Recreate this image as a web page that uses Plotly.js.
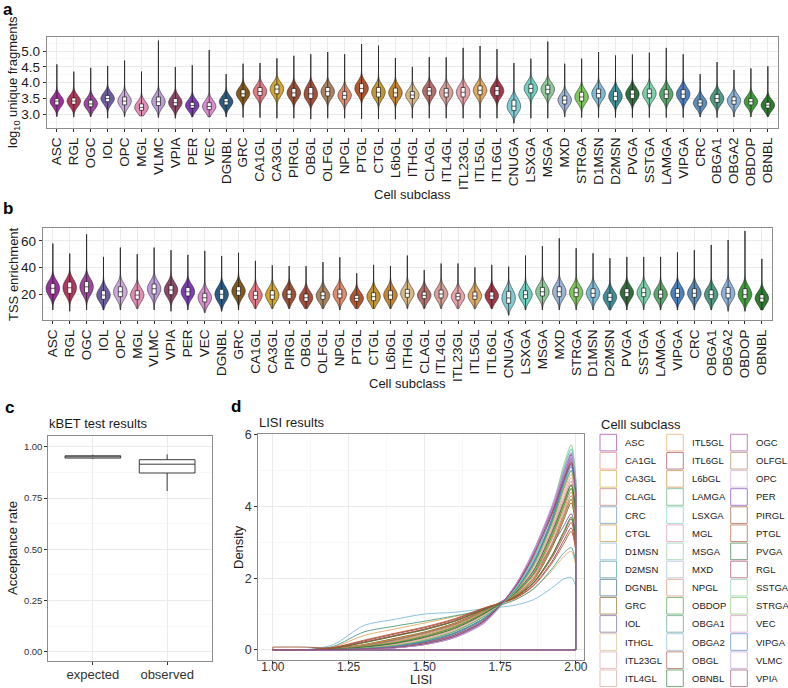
<!DOCTYPE html>
<html><head><meta charset="utf-8">
<script src="https://cdn.plot.ly/plotly-3.0.1.min.js"></script>
<style>html,body{margin:0;padding:0;background:#fff}</style>
</head><body>
<div id="chart" style="width:788px;height:688px"></div>
<script>
// ---------- data ----------
const subclasses = ["ASC","RGL","OGC","IOL","OPC","MGL","VLMC","VPIA","PER","VEC","DGNBL","GRC","CA1GL","CA3GL","PIRGL","OBGL","OLFGL","NPGL","PTGL","CTGL","L6bGL","ITHGL","CLAGL","ITL4GL","ITL23GL","ITL5GL","ITL6GL","CNUGA","LSXGA","MSGA","MXD","STRGA","D1MSN","D2MSN","PVGA","SSTGA","LAMGA","VIPGA","CRC","OBGA1","OBGA2","OBDOP","OBNBL"];
const subclassColors = ["#9E309E","#B3395C","#9E47A0","#6F5FA0","#CDA8DC","#E38CB4","#BB9CD8","#8D4868","#7A3DB3","#D88CCB","#2C5C84","#84591A","#E27A84","#D3A632","#9A5236","#A84F3C","#A88460","#DE8C6E","#B5552C","#C49632","#C8852F","#D8B884","#B46E6A","#D8A096","#E6A2A8","#DFA962","#A03A4C","#80CCD6","#70CFBF","#8DC99A","#9CB4D6","#7EC85E","#7DBAD8","#3E8E98","#306F3C","#7AD0A8","#58A86A","#4E80BE","#5C8CB8","#4E9A84","#8CB2DA","#3E9F3A","#2F7B30"];

// panel a: log10 unique fragments
const fragLo = [2.93,2.92,2.93,2.88,2.93,2.95,2.9,2.88,2.92,2.92,2.92,2.9,2.9,2.88,2.88,2.85,2.88,2.88,2.86,2.86,2.85,2.88,2.88,2.88,2.88,2.88,2.88,2.72,2.88,2.88,2.92,2.9,2.9,2.9,2.9,2.9,2.9,2.9,2.92,2.9,2.92,2.92,2.93];
const fragQ1 = [3.3,3.32,3.24,3.4,3.3,3.13,3.28,3.27,3.2,3.15,3.3,3.55,3.6,3.65,3.55,3.5,3.58,3.48,3.68,3.55,3.55,3.5,3.6,3.55,3.55,3.62,3.6,3.12,3.68,3.65,3.33,3.42,3.52,3.43,3.5,3.52,3.5,3.5,3.26,3.38,3.32,3.3,3.2];
const fragMedian = [3.42,3.42,3.33,3.5,3.42,3.22,3.4,3.37,3.28,3.25,3.4,3.65,3.72,3.8,3.68,3.65,3.72,3.6,3.82,3.7,3.68,3.61,3.74,3.68,3.7,3.76,3.75,3.26,3.82,3.79,3.45,3.55,3.66,3.57,3.64,3.66,3.64,3.64,3.36,3.5,3.43,3.4,3.29];
const fragQ3 = [3.5,3.52,3.45,3.6,3.55,3.33,3.55,3.5,3.38,3.37,3.5,3.78,3.85,3.93,3.82,3.85,3.85,3.72,3.97,3.85,3.83,3.72,3.85,3.82,3.85,3.9,3.88,3.45,3.95,3.92,3.58,3.7,3.8,3.72,3.77,3.8,3.78,3.78,3.46,3.63,3.55,3.5,3.38];
const fragMax = [4.58,4.35,4.47,4.53,4.7,4.35,5.33,4.5,4.55,5.03,4.27,4.6,4.62,4.77,4.85,4.9,4.97,4.9,5.22,5.17,4.78,4.5,4.81,4.8,5.1,5.16,5.06,4.62,4.76,5.3,4.6,4.76,4.97,4.86,4.89,4.95,5.1,4.9,4.27,4.65,4.4,4.45,4.52];

// panel b: TSS enrichment
const tssLo = [8,7,8,8,8,9,8,7,8,6,7,8,9,9,9,9,9,8,9,9,9,9,9,9,9,9,9,4,8,8,8,8,8,8,8,8,8,8,8,8,7,7,8];
const tssQ1 = [20,20.5,21,16,18,16,20,19.5,18.5,14,16,19,16,16,16.5,14.5,16,17,14.5,15,16,17.5,16.5,17,15.5,16,16,13,16.5,18.5,18,18,17.5,14.5,18,18,17,17.5,17.5,16.5,17,16.5,14];
const tssMedian = [24.3,24.7,25.4,19.2,21.7,19.2,24,23,21.7,17.2,19.8,22.3,19,19.2,19.8,17.2,18.7,20,16.7,18,19.2,20.5,19,20,18,18.5,18.5,17,19.5,21.7,21.7,21,20.5,17.5,21,21,19.8,20.5,20.5,19.5,20.5,19.5,16.8];
const tssQ3 = [28,29,29.5,22.5,25.5,22.5,27.5,26.5,25,20.5,23.5,25.5,22,22.5,23,20,21.5,23.5,19,21,22.5,23.5,21.5,23,20.5,21.5,21.5,22,22.5,25,25.5,24.5,24,20.5,24,24.5,23,24,24,23,25,24,19.5];
const tssMax = [58,50.5,65,48,55,50,55,53,49.5,52.5,48.7,51,45,41.6,41,41,44,47.7,35.6,42,41,49,38,43,43,40,42,40.6,49,56,62,54.5,50.7,47,48,48,48,51.4,53,57,60.7,67.5,46.5];

// panel c: kBET acceptance rate
const kbetGroups = ["expected","observed"];
const kbetLower = [0.94,0.784];
const kbetQ1 = [0.945,0.872];
const kbetMedian = [0.951,0.915];
const kbetQ3 = [0.956,0.937];
const kbetUpper = [0.962,0.963];

// panel d: LISI densities (evaluated at lisiGrid)
const lisiGrid = [1.0,1.1,1.2,1.3,1.4,1.5,1.6,1.7,1.8,1.86,1.92,1.96,1.985,2.0];
const lisiASC    = [0,0,0.01,0.03,0.07,0.18,0.4,0.82,1.72,2.55,3.8,4.9,5.45,4.55];
const lisiCA1GL  = [0,0,0.02,0.07,0.17,0.34,0.6,1.02,1.6,2.2,3.3,4.2,4.7,3.95];
const lisiCA3GL  = [0,0,0.02,0.08,0.19,0.36,0.62,1.03,1.58,2.15,3.2,4.1,4.6,3.85];
const lisiCLAGL  = [0,0,0.03,0.13,0.28,0.47,0.72,1.1,1.52,1.98,2.9,3.72,4.2,3.5];
const lisiCRC    = [0,0,0.01,0.04,0.1,0.24,0.48,0.9,1.65,2.4,3.55,4.6,5.1,4.3];
const lisiCTGL   = [0,0,0.03,0.1,0.22,0.4,0.66,1.05,1.55,2.1,3.1,4.0,4.5,3.75];
const lisiD1MSN  = [0,0,0.15,0.68,0.85,1.0,1.05,1.15,1.25,1.4,1.72,1.98,2.02,1.78];
const lisiD2MSN  = [0,0,0.01,0.04,0.09,0.22,0.45,0.88,1.68,2.45,3.65,4.8,5.3,4.45];
const lisiDGNBL  = [0,0,0.01,0.05,0.12,0.27,0.52,0.95,1.62,2.35,3.5,4.5,5.0,4.2];
const lisiGRC    = [0,0,0.04,0.15,0.32,0.5,0.75,1.12,1.5,1.93,2.82,3.62,4.1,3.4];
const lisiIOL    = [0,0,0.03,0.12,0.28,0.48,0.72,1.1,1.6,2.1,2.9,3.45,3.8,3.2];
const lisiITHGL  = [0,0,0.02,0.06,0.14,0.3,0.55,0.98,1.62,2.3,3.4,4.4,4.9,4.1];
const lisiITL23GL= [0,0,0.02,0.07,0.16,0.32,0.57,1.0,1.6,2.25,3.35,4.3,4.8,4.0];
const lisiITL4GL = [0,0,0.02,0.08,0.2,0.38,0.63,1.03,1.57,2.15,3.2,4.1,4.6,3.85];
const lisiITL5GL = [0,0,0.08,0.4,0.58,0.75,0.93,1.13,1.4,1.7,2.2,2.6,2.75,2.35];
const lisiITL6GL = [0,0,0.06,0.25,0.44,0.62,0.85,1.17,1.45,1.8,2.45,3.05,3.4,2.85];
const lisiL6bGL  = [0,0,0.04,0.14,0.3,0.48,0.73,1.1,1.5,1.95,2.88,3.7,4.2,3.5];
const lisiLAMGA  = [0,0,0.01,0.04,0.1,0.23,0.47,0.9,1.66,2.42,3.6,4.7,5.2,4.35];
const lisiLSXGA  = [0,0,0.01,0.03,0.07,0.17,0.37,0.8,1.7,2.55,3.85,5.05,5.6,4.7];
const lisiMGL    = [0,0,0.01,0.03,0.08,0.19,0.4,0.84,1.75,2.6,3.8,4.8,5.3,4.4];
const lisiMSGA   = [0,0,0,0.02,0.06,0.15,0.35,0.78,1.7,2.55,3.9,5.15,5.72,4.8];
const lisiMXD    = [0,0,0.01,0.03,0.07,0.17,0.38,0.82,1.72,2.55,3.85,4.95,5.5,4.6];
const lisiNPGL   = [0,0,0.03,0.11,0.24,0.42,0.68,1.06,1.55,2.05,3.05,3.9,4.4,3.65];
const lisiOBDOP  = [0,0,0.02,0.09,0.2,0.38,0.64,1.04,1.57,2.12,3.15,4.0,4.5,3.75];
const lisiOBGA1  = [0,0,0.1,0.5,0.66,0.8,0.95,1.12,1.4,1.7,2.25,2.7,2.85,2.45];
const lisiOBGA2  = [0,0,0.01,0.03,0.08,0.19,0.41,0.84,1.7,2.5,3.75,4.88,5.4,4.5];
const lisiOBGL   = [0,0,0.05,0.21,0.39,0.57,0.8,1.14,1.48,1.87,2.6,3.25,3.65,3.05];
const lisiOBNBL  = [0,0,0.05,0.2,0.38,0.56,0.8,1.14,1.48,1.88,2.62,3.3,3.7,3.1];
const lisiOGC    = [0,0,0,0.02,0.06,0.15,0.35,0.78,1.8,2.75,3.95,4.95,5.45,4.55];
const lisiOLFGL  = [0,0,0.03,0.12,0.26,0.45,0.7,1.08,1.53,2.0,2.95,3.8,4.3,3.6];
const lisiOPC    = [0,0,0,0.02,0.06,0.15,0.34,0.76,1.8,2.75,4.0,5.0,5.5,4.6];
const lisiPER    = [0,0,0,0.02,0.06,0.16,0.36,0.8,1.78,2.7,3.9,4.85,5.35,4.45];
const lisiPIRGL  = [0.08,0.08,0.06,0.22,0.4,0.58,0.82,1.15,1.47,1.85,2.55,3.17,3.55,2.95];
const lisiPTGL   = [0,0,0.07,0.27,0.46,0.64,0.87,1.18,1.44,1.78,2.4,2.96,3.3,2.75];
const lisiPVGA   = [0,0,0.02,0.08,0.18,0.35,0.6,1.02,1.6,2.2,3.25,4.1,4.6,3.85];
const lisiRGL    = [0,0,0.01,0.03,0.08,0.2,0.42,0.85,1.75,2.6,3.75,4.7,5.2,4.35];
const lisiSSTGA  = [0,0,0.01,0.03,0.07,0.17,0.37,0.8,1.7,2.55,3.85,5.05,5.6,4.7];
const lisiSTRGA  = [0,0,0.01,0.05,0.12,0.27,0.52,0.95,1.62,2.35,3.5,4.5,5.0,4.2];
const lisiVEC    = [0,0,0,0.02,0.06,0.16,0.37,0.8,1.78,2.7,3.85,4.8,5.3,4.4];
const lisiVIPGA  = [0,0,0.01,0.04,0.1,0.23,0.47,0.9,1.66,2.42,3.6,4.65,5.15,4.3];
const lisiVLMC   = [0,0,0,0.02,0.06,0.15,0.35,0.78,1.8,2.75,3.95,4.9,5.4,4.5];
const lisiVPIA   = [0,0,0.01,0.03,0.07,0.17,0.38,0.82,1.76,2.65,3.8,4.75,5.25,4.4];
const lisiSubclasses = ["ASC","CA1GL","CA3GL","CLAGL","CRC","CTGL","D1MSN","D2MSN","DGNBL","GRC","IOL","ITHGL","ITL23GL","ITL4GL","ITL5GL","ITL6GL","L6bGL","LAMGA","LSXGA","MGL","MSGA","MXD","NPGL","OBDOP","OBGA1","OBGA2","OBGL","OBNBL","OGC","OLFGL","OPC","PER","PIRGL","PTGL","PVGA","RGL","SSTGA","STRGA","VEC","VIPGA","VLMC","VPIA"];
const lisiCurves = [lisiASC,lisiCA1GL,lisiCA3GL,lisiCLAGL,lisiCRC,lisiCTGL,lisiD1MSN,lisiD2MSN,lisiDGNBL,lisiGRC,lisiIOL,lisiITHGL,lisiITL23GL,lisiITL4GL,lisiITL5GL,lisiITL6GL,lisiL6bGL,lisiLAMGA,lisiLSXGA,lisiMGL,lisiMSGA,lisiMXD,lisiNPGL,lisiOBDOP,lisiOBGA1,lisiOBGA2,lisiOBGL,lisiOBNBL,lisiOGC,lisiOLFGL,lisiOPC,lisiPER,lisiPIRGL,lisiPTGL,lisiPVGA,lisiRGL,lisiSSTGA,lisiSTRGA,lisiVEC,lisiVIPGA,lisiVLMC,lisiVPIA];

// ---------- helpers ----------
const W = 788, H = 688;
const fx = p => p / W;
const fy = p => 1 - p / H;
const FONT = 'Liberation Sans, Arial, sans-serif';
const colorOf = {};
subclasses.forEach((s, i) => colorOf[s] = subclassColors[i]);

const traces = [];

function addViolins(xa, ya, q1, med, q3, lo, hi, bw) {
  subclasses.forEach((s, i) => {
    traces.push({
      type: 'violin', xaxis: xa, yaxis: ya,
      x: [s, s, s], y: [q1[i], med[i], q3[i]],
      spanmode: 'manual', span: [lo[i], hi[i]], bandwidth: bw,
      width: 0.8, scalemode: 'width', side: 'both',
      fillcolor: subclassColors[i], line: {color: '#1a1a1a', width: 0.5},
      points: false, box: {visible: false}, meanline: {visible: false},
      hoverinfo: 'skip', showlegend: false
    });
  });
}
function addBoxes(xa, ya, q1, med, q3, lo, hi) {
  traces.push({
    type: 'box', xaxis: xa, yaxis: ya, x: subclasses,
    q1: q1, median: med, q3: q3, lowerfence: lo, upperfence: hi,
    fillcolor: '#ffffff', line: {color: '#1a1a1a', width: 0.7},
    whiskerwidth: 0, width: 0.24, boxpoints: false,
    hoverinfo: 'skip', showlegend: false
  });
}
addViolins('x', 'y', fragQ1, fragMedian, fragQ3, fragLo, fragMax, 0.15);
addViolins('x2', 'y2', tssQ1, tssMedian, tssQ3, tssLo, tssMax, 4);
addBoxes('x', 'y', fragQ1, fragMedian, fragQ3, fragLo, fragMax);
addBoxes('x2', 'y2', tssQ1, tssMedian, tssQ3, tssLo, tssMax);

traces.push({
  type: 'box', xaxis: 'x3', yaxis: 'y3', x: kbetGroups,
  q1: kbetQ1, median: kbetMedian, q3: kbetQ3, lowerfence: kbetLower, upperfence: kbetUpper,
  fillcolor: '#ffffff', line: {color: '#3a3a3a', width: 1},
  whiskerwidth: 0, width: 0.75, boxpoints: false, hoverinfo: 'skip', showlegend: false
});

const g0 = lisiGrid[0], g1 = lisiGrid[lisiGrid.length - 1];
lisiSubclasses.forEach((s, k) => {
  const c = lisiCurves[k];
  traces.push({type: 'scatter', mode: 'lines', xaxis: 'x4', yaxis: 'y4',
    x: lisiGrid, y: c, line: {color: colorOf[s], width: 0.9, shape: 'spline', smoothing: 0.8},
    hoverinfo: 'skip', showlegend: false});
  traces.push({type: 'scatter', mode: 'lines', xaxis: 'x4', yaxis: 'y4',
    x: [g1, g1, g0, g0], y: [c[c.length - 1], 0, 0, c[0]],
    line: {color: colorOf[s], width: 0.9}, hoverinfo: 'skip', showlegend: false});
});

// ---------- layout ----------
const frame = {showline: true, mirror: true, linecolor: '#8c8c8c', linewidth: 1,
  zeroline: false, ticks: 'outside', ticklen: 3, tickwidth: 1, tickcolor: '#333', fixedrange: true};
const grid = {showgrid: true, gridcolor: '#ebebeb', gridwidth: 1};
const minorGrid = (dt, t0) => ({showgrid: true, gridcolor: '#f4f4f4', gridwidth: 0.6, dtick: dt, tick0: t0, ticks: ''});

const layout = {
  width: W, height: H, margin: {l: 0, r: 0, t: 0, b: 0}, autosize: false,
  paper_bgcolor: '#fff', plot_bgcolor: '#fff', showlegend: false,
  font: {family: FONT, color: '#1a1a1a'},
  violinmode: 'overlay', boxmode: 'overlay',
  xaxis: Object.assign({}, frame, grid, {domain: [fx(46.7), fx(778)], anchor: 'y', type: 'category',
    categoryorder: 'array', categoryarray: subclasses, range: [-0.6, subclasses.length - 0.4],
    tickangle: -90, tickfont: {size: 13.5, color: '#1a1a1a'}}),
  yaxis: Object.assign({}, frame, grid, {domain: [fy(128), fy(36.5)], anchor: 'x',
    range: [2.57, 5.46], dtick: 0.5, tick0: 0, tickformat: '.1f', minor: minorGrid(0.25, 0),
    tickfont: {size: 13.5, color: '#1a1a1a'}}),
  xaxis2: Object.assign({}, frame, grid, {domain: [fx(42.7), fx(772)], anchor: 'y2', type: 'category',
    categoryorder: 'array', categoryarray: subclasses, range: [-0.6, subclasses.length - 0.4],
    tickangle: -90, tickfont: {size: 13.5, color: '#1a1a1a'}}),
  yaxis2: Object.assign({}, frame, grid, {domain: [fy(320), fy(227.7)], anchor: 'x2',
    range: [0.4, 70], dtick: 20, tick0: 0, minor: minorGrid(10, 0),
    tickfont: {size: 13.5, color: '#1a1a1a'}}),
  xaxis3: Object.assign({}, frame, grid, {domain: [fx(48.3), fx(211.7)], anchor: 'y3', type: 'category',
    categoryorder: 'array', categoryarray: kbetGroups, range: [-0.6, 1.6], ticklabelstandoff: -2,
    tickfont: {size: 13, color: '#333'}}),
  yaxis3: Object.assign({}, frame, grid, {domain: [fy(661), fy(435.7)], anchor: 'x3',
    range: [-0.045, 1.054], dtick: 0.25, tick0: 0, tickformat: '.2f', minor: minorGrid(0.125, 0),
    tickfont: {size: 9.5, color: '#333'}}),
  xaxis4: Object.assign({}, frame, grid, {domain: [fx(258.3), fx(584.3)], anchor: 'y4',
    range: [0.952, 2.028], dtick: 0.25, tick0: 1, tickformat: '.2f', minor: minorGrid(0.125, 1),
    ticklabelstandoff: -7, tickfont: {size: 12, color: '#333'}}),
  yaxis4: Object.assign({}, frame, grid, {domain: [fy(660), fy(434.3)], anchor: 'x4',
    range: [-0.28, 6.01], dtick: 2, tick0: 0, minor: minorGrid(1, 0),
    tickfont: {size: 12.5, color: '#333'}}),
  annotations: [],
  shapes: []
};

function ann(text, x, y, opts) {
  layout.annotations.push(Object.assign({text: text, x: fx(x), y: fy(y), xref: 'paper', yref: 'paper',
    showarrow: false, xanchor: 'center', yanchor: 'middle',
    font: {family: FONT, size: 13, color: '#1a1a1a'}}, opts || {}));
}
const bold = {family: FONT, size: 17, color: '#000'};
ann('<b>a</b>', 1, 9, {xanchor: 'left', font: bold});
ann('<b>b</b>', 1, 208, {xanchor: 'left', font: bold});
ann('<b>c</b>', 3, 407, {xanchor: 'left', font: bold});
ann('<b>d</b>', 229, 406, {xanchor: 'left', font: bold});
ann('log<sub>10</sub> unique fragments', 13, 82, {textangle: -90});
ann('Cell subclass', 412, 194);
ann('TSS enrichment', 13, 274, {textangle: -90});
ann('Cell subclass', 407, 383);
ann('kBET test results', 46.7, 423, {xanchor: 'left'});
ann('Acceptance rate', 12, 548, {textangle: -90});
ann('LISI results', 256.7, 422, {xanchor: 'left'});
ann('Density', 238, 547, {textangle: -90});
ann('LISI', 421, 689, {yanchor: 'bottom', font: {family: FONT, size: 12.5, color: '#1a1a1a'}});
ann('Celll subclass', 599, 424, {xanchor: 'left'});

// legend (3 columns, 14 rows)
const colX = [600, 666.7, 730.7];
const rowsPerCol = 14, rowPitch = 18.13, keySize = 16.6, top0 = 434.3;
lisiSubclasses.forEach((s, k) => {
  const col = Math.floor(k / rowsPerCol), row = k % rowsPerCol;
  const x0 = colX[col], y0 = top0 + row * rowPitch;
  layout.shapes.push({type: 'rect', xref: 'paper', yref: 'paper',
    x0: fx(x0), x1: fx(x0 + keySize), y0: fy(y0), y1: fy(y0 + keySize),
    line: {color: colorOf[s], width: 1}, fillcolor: 'rgba(0,0,0,0)', opacity: 0.65});
  ann(s, x0 + keySize + 6.5, y0 + keySize / 2, {xanchor: 'left', font: {family: FONT, size: 9.5, color: '#1a1a1a'}});
});

Plotly.newPlot('chart', traces, layout, {staticPlot: true});
</script>
</body></html>
